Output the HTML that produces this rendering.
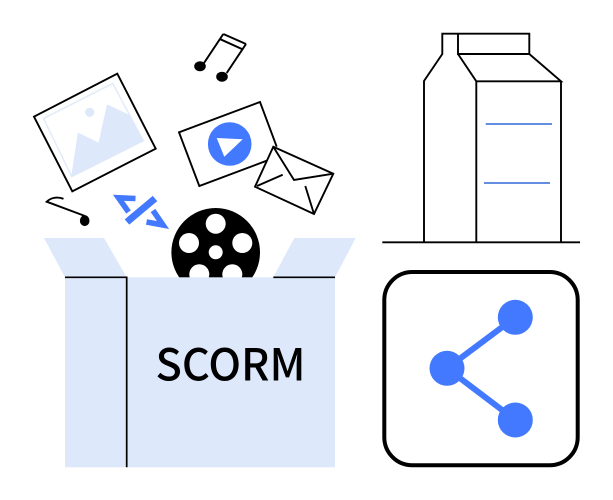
<!DOCTYPE html>
<html>
<head>
<meta charset="utf-8">
<style>
html,body{margin:0;padding:0;background:#fff;width:613px;height:500px;overflow:hidden}
svg{display:block}
</style>
</head>
<body>
<svg width="613" height="500" viewBox="0 0 613 500" xmlns="http://www.w3.org/2000/svg">
<defs><clipPath id="c"><rect x="160" y="190" width="110" height="87.5"/></clipPath></defs>
<rect width="613" height="500" fill="#fff"/>

<!-- music note -->
<g fill="none" stroke="#000" stroke-width="2">
<path d="M223.3 34L246 44M220.5 39.3L243 49.5M223.3 34L204 63M246 44L226.7 73"/>
</g>
<ellipse cx="200" cy="66.3" rx="5.8" ry="5" fill="#000"/>
<ellipse cx="222" cy="76.7" rx="5.8" ry="5" fill="#000"/>

<!-- photo -->
<path d="M117.3 73.7L155.7 148.7L72.3 191.3L34 116.7Z" fill="#fff" stroke="#000" stroke-width="1.9"/>
<path d="M43.5 118.5L112.7 83.5L143.3 140.7L71.7 176.5Z" fill="none" stroke="#e4ecfa" stroke-width="1.6"/>
<path d="M71.7 176.5L78.3 133.3L99 143.3L107.3 105L128.3 115L143.3 140.7Z" fill="#dde8fb" stroke="#dde8fb" stroke-linejoin="round"/>
<circle cx="89.7" cy="112.3" r="4.6" fill="#dde8fb"/>

<!-- video -->
<path d="M266.7 160.7L199.3 186L179 132.3L260 102L276.7 146.7" fill="#fff" stroke="#000" stroke-width="1.9"/>
<circle cx="229.7" cy="144" r="21.8" fill="#4279ff"/>
<path d="M216.7 138L242.7 139.3L224.3 156.7Z" fill="#fff"/>

<!-- envelope -->
<path d="M273.3 146.7L333.3 173.7L314 214L255 186.7Z" fill="#fff" stroke="#000" stroke-width="1.9"/>
<path d="M273.3 146.7L294 180L333.3 173.7M257 186L282.7 174.7M305.3 186L314 214" fill="none" stroke="#000" stroke-width="1.9"/>

<!-- small note -->
<path d="M85 216L46.7 201.7C50 198.5 56 196 63.5 198.8" fill="none" stroke="#000" stroke-width="1.9"/>
<ellipse cx="84.7" cy="220.7" rx="4.8" ry="5.4" fill="#000"/>

<!-- code -->
<g fill="none" stroke="#4279ff" stroke-width="5.6">
<path d="M135.5 198.5L118.5 197.8L128.5 212"/>
<path d="M146.5 222L163 225L153 210.5"/>
<path d="M155 198.5L127 222" stroke-width="7"/>
</g>

<!-- box flaps -->
<path d="M44 238H104L126.7 277.3H65Z" fill="#dde8fb"/>
<path d="M294.3 238H355.7L335 277.3H273.3Z" fill="#dde8fb"/>

<!-- reel -->
<g clip-path="url(#c)">
<circle cx="215.7" cy="252.3" r="44.3" fill="#000"/>
<g fill="#fff">
<circle cx="215.7" cy="223.7" r="10"/>
<circle cx="189" cy="243" r="10"/>
<circle cx="242.3" cy="243" r="10"/>
<circle cx="199.3" cy="274.3" r="10"/>
<circle cx="232.3" cy="274.3" r="10"/>
<circle cx="215.7" cy="252.3" r="7"/>
</g>
</g>

<!-- box -->
<rect x="65" y="277.3" width="270" height="190" fill="#dde8fb"/>
<path d="M65 277.3H126.7V467.3M273.3 277.3H335" fill="none" stroke="#000" stroke-width="1.7"/>
<text x="155.5" y="380.5" font-family="'Noto Sans CJK JP','Liberation Sans',sans-serif" font-weight="500" font-size="44" fill="#000" textLength="150" lengthAdjust="spacingAndGlyphs">SCORM</text>

<!-- carton -->
<g fill="none" stroke="#000" stroke-width="1.9" stroke-linejoin="miter">
<path d="M424 242.3V81L442.3 54V33.7H529.3V54H458V33.7"/>
<path d="M458 54L476.3 81.3H561L529.3 54"/>
<path d="M476.3 81.3V242.3M561 81.3V242.3"/>
<path d="M382.3 242.3H580"/>
</g>
<path d="M485.7 124H552M484 183H550" stroke="#4f7fdc" stroke-width="1.7" fill="none"/>

<!-- share -->
<rect x="384.3" y="272" width="193.4" height="193.3" rx="28" ry="28" fill="#fff" stroke="#000" stroke-width="4"/>
<path d="M515.3 317.3L447 368.3L515.3 420" fill="none" stroke="#4279ff" stroke-width="6"/>
<circle cx="515.3" cy="317.3" r="17.5" fill="#4279ff"/>
<circle cx="447" cy="368.3" r="17.5" fill="#4279ff"/>
<circle cx="515.3" cy="420" r="17.5" fill="#4279ff"/>
</svg>
</body>
</html>
